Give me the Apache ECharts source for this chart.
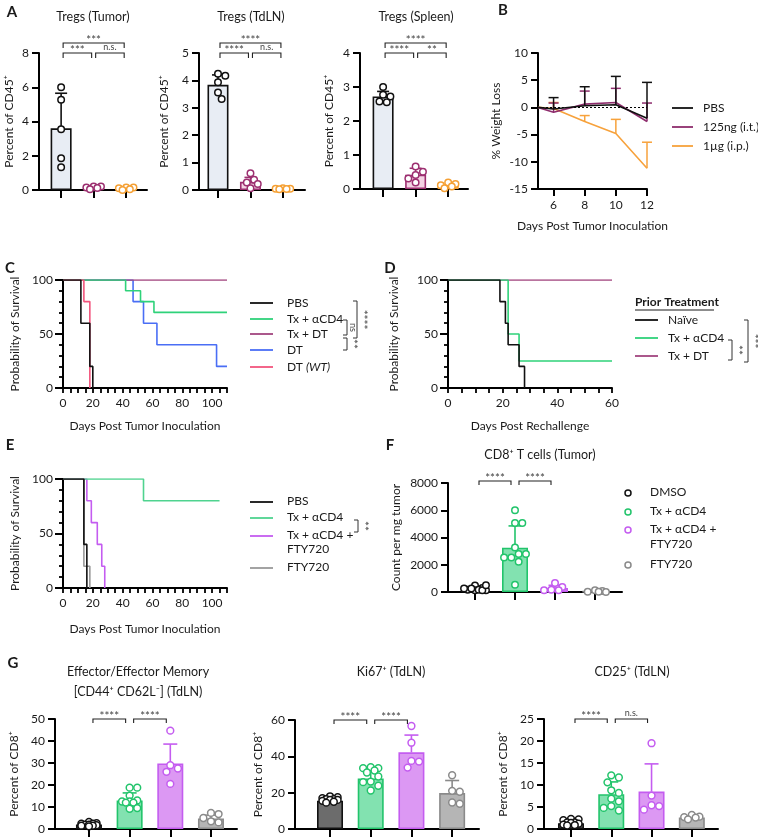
<!DOCTYPE html>
<html><head><meta charset="utf-8">
<script src="https://cdn.jsdelivr.net/npm/echarts@6/dist/echarts.min.js"></script>
<style>html,body{margin:0;padding:0;background:#fff}#c{width:758px;height:840px}</style>
</head><body><div id="c"></div><script>
// ================= DATA =================
// Panel A – Tregs, 3 groups each
const aTitles = ['Tregs (Tumor)', 'Tregs (TdLN)', 'Tregs (Spleen)'];
const aYName = 'Percent of CD45⁺';
const aTumorMean = [3.6, 0.15, 0.09];
const aTumorSdTop = [5.65, null, null];
const aTumorPts = [[6.0, 5.27, 3.55, 1.85, 1.33], [0.2, 0.2, 0.15, 0.12, 0.05], [0.15, 0.15, 0.1, 0.05, 0.0]];
const aTumorSig = ['***', '***', 'n.s.']; // [1-3, 1-2, 2-3]
const aTdlnMean = [3.84, 0.3, 0.05];
const aTdlnSdTop = [4.2, 0.46, null];
const aTdlnPts = [[4.24, 4.17, 3.93, 3.56, 3.32], [0.61, 0.37, 0.27, 0.22, 0.06], [0.06, 0.05, 0.05, 0.04, 0.03]];
const aTdlnSig = ['****', '****', 'n.s.'];
const aSpleenMean = [2.72, 0.42, 0.11];
const aSpleenSdTop = [2.87, 0.61, null];
const aSpleenPts = [[3.0, 2.77, 2.72, 2.57, 2.55], [0.66, 0.51, 0.41, 0.31, 0.19], [0.19, 0.15, 0.11, 0.07, 0.02]];
const aSpleenSig = ['****', '****', '**'];

// Panel B – weight loss
const bNames = ['PBS', '125ng (i.t.)', '1µg (i.p.)'];
const bDays = [5, 6, 8, 10, 12];
const bXTicks = [6, 8, 10, 12];
const bPBS = [0, -0.3, 0.3, 0.5, -2.0];
const bPBSErr = [null, 1.8, 3.8, 5.7, 4.6];
const b125 = [0, -0.9, 0.6, 0.9, -2.6];
const b125Err = [null, 0.8, 3.0, 3.5, 0.8];
const b1ug = [0, -0.2, -2.6, -4.8, -11.2];
const b1ugErr = [null, 0.9, -1.5, -2.2, -6.4];

// Panel C – survival
const cNames = ['PBS', 'Tx + αCD4', 'Tx + DT', 'DT', 'DT (WT)'];
const cPBS = [[0, 100], [12, 60], [18, 20], [20, 0]];
const cTxCD4 = [[0, 100], [42, 90], [52, 80], [61, 70], [110, 70]];
const cTxDT = [[0, 100], [110, 100]];
const cDT = [[0, 100], [47, 80], [54, 60], [63, 40], [103, 20], [110, 20]];
const cDTWT = [[0, 100], [14, 80], [18, 0]];
const survXLabels = [0, 20, 40, 60, 80, 100];

// Panel D – rechallenge survival
const dNames = ['Naïve', 'Tx + αCD4', 'Tx + DT'];
const dNaive = [[0, 100], [19, 80], [21, 60], [22, 40], [26, 20], [28, 0]];
const dTxCD4 = [[0, 100], [22, 50], [26, 25], [60, 25]];
const dTxDT = [[0, 100], [60, 100]];
const dXLabels = [0, 20, 40, 60];

// Panel E – survival with FTY720
const eNames = ['PBS', 'Tx + αCD4', 'Tx + αCD4 +\nFTY720', 'FTY720'];
const ePBS = [[0, 100], [14, 40], [16, 0]];
const eTxCD4 = [[0, 100], [54, 80], [105, 80]];
const eTxCD4FTY = [[0, 100], [16, 80], [19, 60], [23, 40], [26, 20], [28, 0]];
const eFTY = [[0, 100], [14, 20], [18, 0]];

// Panel F – CD8 counts
const fNames = ['DMSO', 'Tx + αCD4', 'Tx + αCD4 +\nFTY720', 'FTY720'];
const fMean = [220, 3250, 290, 50];
const fSdTop = [330, 4850, 490, null];
const fPts = [[470, 290, 170, 120, 250, 120, 170, 250, 120, 490],
              [6000, 5070, 5070, 3270, 2780, 2540, 2780, 2220, 2540, 540],
              [660, 370, 170, 120, 120],
              [120, 70, 25, 25, 0]];
const fSig = ['****', '****'];

// Panel G
const g1Mean = [2.0, 13.0, 29.8, 4.8];
const g1SdTop = [2.7, 16.4, 38.6, 6.3];
const g1Pts = [[3.2, 2.7, 2.4, 2.4, 2.0, 2.0, 1.7, 1.5, 1.5, 1.2],
               [18.8, 18.8, 15.2, 13.0, 12.5, 12.5, 12.0, 12.0, 9.5, 9.2],
               [44.7, 29.0, 27.5, 26.0, 20.5],
               [7.3, 6.8, 5.0, 3.5, 3.0]];
const g2Mean = [15.6, 27.8, 42.2, 19.8];
const g2SdTop = [16.7, 31.6, 51.7, 26.7];
const g2Pts = [[18.0, 17.5, 17.0, 16.5, 16.5, 16.0, 16.0, 15.5, 15.0, 14.5],
               [34.0, 33.5, 33.5, 32.2, 31.1, 28.9, 26.1, 25.8, 23.8, 21.2],
               [56.7, 47.5, 37.5, 37.1, 33.8],
               [29.6, 21.0, 20.5, 14.6, 13.9]];
const g3Mean = [1.3, 7.9, 8.5, 2.6];
const g3SdTop = [1.8, 10.7, 14.8, 3.0];
const g3Pts = [[2.3, 2.2, 2.0, 1.5, 1.5, 1.4, 1.2, 1.0, 0.9, 0.8],
               [12.2, 11.7, 10.6, 8.8, 8.2, 6.9, 6.3, 5.2, 4.8, 4.2],
               [19.5, 7.6, 5.4, 5.2, 4.4],
               [3.2, 2.8, 2.7, 2.6, 2.2]];
const g1Sig = ['****', '****'];
const g2Sig = ['****', '****'];
const g3Sig = ['****', 'n.s.'];

// ================= STYLE / BUILD =================
const FONT = 'Lato, "Noto Sans", sans-serif';
const TXT = '#1a1a1a';
const SIGC = '#444';
const C = {
  black: '#111111', aPurple: '#9c2f70', aOrange: '#f5a034',
  aFill1: '#e8edf4', aFill2: '#f3d3e3', aFill3: '#fde5c8',
  green: '#2fd27a', greenE: '#4fd38f', greenFill: '#82e2b0', greenStroke: '#22c46b',
  violet: '#c45cf0', violetFill: '#dc98f3',
  grey: '#999999', greyFill: '#b5b5b5', greyStroke: '#8a8a8a', dark: '#6c6c6c',
  purpleC: '#a2467f', blue: '#4a6ef5', pink: '#f2557d', bPurple: '#8e2d6d', bOrange: '#f7a23c'
};

const option = { animation: false, backgroundColor: '#fff', textStyle: { fontFamily: FONT },
  grid: [], xAxis: [], yAxis: [], series: [], graphic: [] };

function merge(a, b) {
  for (const k in b) {
    if (b[k] && typeof b[k] === 'object' && !Array.isArray(b[k]) && a[k] && typeof a[k] === 'object') merge(a[k], b[k]);
    else a[k] = b[k];
  }
  return a;
}
function axis(gi, o) {
  return merge({ gridIndex: gi, type: 'value', splitLine: { show: false },
    axisLine: { show: true, onZero: false, lineStyle: { color: '#000', width: 2 } },
    axisTick: { show: true, length: 7, lineStyle: { color: '#000', width: 2 } },
    axisLabel: { color: TXT, fontSize: 12, fontFamily: FONT, margin: 10, formatter: v => String(v) },
    nameTextStyle: { color: TXT, fontSize: 12, fontFamily: FONT } }, o);
}
function sigFont(t) { return (/\*/.test(t) ? '11.5px ' : '9px ') + FONT; }
function txt(x, y, text, o = {}) {
  const st = { text, fill: o.color || TXT,
    font: o.font || ((o.italic ? 'italic ' : '') + (o.bold ? 'bold ' : '') + (o.size || 12) + 'px ' + FONT),
    align: o.align || 'center', verticalAlign: o.va || 'middle' };
  if (o.lh) st.lineHeight = o.lh;
  if (o.rich) st.rich = o.rich;
  option.graphic.push({ type: 'text', x, y, rotation: o.rot || 0, z: 10, silent: true, style: st });
}
function gline(x1, y1, x2, y2, col, w) {
  option.graphic.push({ type: 'line', z: 10, silent: true, shape: { x1, y1, x2, y2 }, style: { stroke: col, lineWidth: w || 1.5 } });
}
function vbracket(x, y1, y2, label) {
  option.graphic.push({ type: 'polyline', z: 10, silent: true,
    shape: { points: [[x - 4, y1], [x, y1], [x, y2], [x - 4, y2]] }, style: { stroke: '#333', lineWidth: 1, fill: null } });
  txt(x + 6, (y1 + y2) / 2, label, { font: sigFont(label), color: SIGC, rot: -Math.PI / 2 });
}

// constrained beeswarm: horizontal placement only, kept within +-W px
function swarm(values, center, pxX, pxY, d, W) {
  const placed = [], out = [];
  const step = d * 0.5;
  const cands = [0];
  for (let k = 1; k * step <= W + 0.01; k++) { cands.push(k * step, -k * step); }
  values.forEach(v => {
    const ypx = v * pxY;
    let best = 0, bestD = -1;
    for (const off of cands) {
      const md = placed.length ? Math.min(...placed.map(p => Math.hypot(p[0] - off, p[1] - ypx))) : Infinity;
      if (md >= d * 0.95) { best = off; bestD = md; break; }
      if (md > bestD) { bestD = md; best = off; }
    }
    placed.push([best, ypx]);
    out.push([center + best / pxX, v]);
  });
  return out;
}

function barPanel(c) {
  const gi = option.grid.length;
  option.grid.push({ left: c.left, top: c.top, width: c.w, height: c.h, outerBoundsMode: 'none' });
  const cats = c.mean.map((_, i) => i + 1);
  const xi = option.xAxis.length, yi = option.yAxis.length;
  option.xAxis.push(axis(gi, { min: c.xMin, max: c.xMax, axisTick: { customValues: cats, length: 8 }, axisLabel: { show: false } }));
  option.yAxis.push(axis(gi, { min: 0, max: c.yMax, interval: c.yInt, name: c.yName, nameLocation: 'middle', nameGap: c.nameGap, nameRotate: 90 }));
  const pxX = c.w / (c.xMax - c.xMin), pxY = c.h / c.yMax;
  option.series.push({ type: 'bar', xAxisIndex: xi, yAxisIndex: yi, barWidth: c.barW, silent: true, z: 2,
    data: c.mean.map((m, i) => ({ value: [i + 1, m], itemStyle: { color: c.fill[i], borderColor: c.stroke[i], borderWidth: 1.6 } })) });
  option.series.push({ type: 'custom', xAxisIndex: xi, yAxisIndex: yi, z: 3, silent: true, clip: false,
    data: c.mean.map((m, i) => [i + 1, m, c.sdTop[i] == null ? m : c.sdTop[i]]),
    renderItem: (p, api) => {
      const i = p.dataIndex;
      if (c.sdTop[i] == null) return null;
      const p0 = api.coord([api.value(0), api.value(1)]), p1 = api.coord([api.value(0), api.value(2)]);
      const hw = c.cap / 2, col = c.stroke[i];
      return { type: 'group', children: [
        { type: 'line', shape: { x1: p0[0], y1: p0[1], x2: p1[0], y2: p1[1] }, style: { stroke: col, lineWidth: 1.6 } },
        { type: 'line', shape: { x1: p1[0] - hw, y1: p1[1], x2: p1[0] + hw, y2: p1[1] }, style: { stroke: col, lineWidth: 1.6 } }] };
    } });
  c.pts.forEach((arr, i) => {
    option.series.push({ type: 'scatter', xAxisIndex: xi, yAxisIndex: yi, silent: true, z: 4, symbol: 'circle', symbolSize: c.ms,
      itemStyle: { color: '#fff', borderColor: c.ptCol[i], borderWidth: 1.5, opacity: 1 },
      data: swarm(arr, i + 1, pxX, pxY, c.ms + 0.8, c.W) });
  });
  // significance brackets
  option.series.push({ type: 'custom', xAxisIndex: xi, yAxisIndex: yi, z: 5, silent: true, clip: false,
    data: c.sig.map(s => [s[0], s[1], s[2]]),
    renderItem: (p, api) => {
      const s = c.sig[p.dataIndex];
      const top = api.coord([s[0], c.yMax])[1];
      const y = top - c.bBase - s[2] * 10;
      const xa = api.coord([s[0], 0])[0] + c.inset, xb = api.coord([s[1], 0])[0] - c.inset;
      const isStar = /\*/.test(s[3]);
      return { type: 'group', children: [
        { type: 'polyline', shape: { points: [[xa, y + c.drop], [xa, y], [xb, y], [xb, y + c.drop]] }, style: { stroke: '#222', lineWidth: 1.1, fill: null } },
        { type: 'text', x: (xa + xb) / 2, y: isStar ? y + 3 : y - 1, style: { text: s[3], fill: SIGC, font: sigFont(s[3]), align: 'center', verticalAlign: 'bottom' } }] };
    } });
}

function survPanel(c) {
  const gi = option.grid.length;
  option.grid.push({ left: c.left, top: c.top, width: c.w, height: c.h, outerBoundsMode: 'none' });
  const ticks = []; for (let t = 0; t <= c.xMax; t += 5) ticks.push(t);
  const xi = option.xAxis.length, yi = option.yAxis.length;
  option.xAxis.push(axis(gi, { min: 0, max: c.xMax, name: c.xName, nameLocation: 'middle', nameGap: c.xGap,
    axisTick: { customValues: ticks, length: 5, lineStyle: { width: 1.8 } }, axisLabel: { customValues: c.xLabels, margin: 9 } }));
  option.yAxis.push(axis(gi, { min: 0, max: 100, interval: 50, name: 'Probability of Survival', nameLocation: 'middle', nameGap: c.yGap,
    axisTick: { length: 8 }, minorTick: { show: true, splitNumber: 5, length: 4, lineStyle: { color: '#000', width: 1.8 } } }));
  c.curves.forEach((d, i) => option.series.push({ type: 'line', xAxisIndex: xi, yAxisIndex: yi, step: 'end', showSymbol: false,
    symbol: 'none', silent: true, data: d, z: 3 + i, lineStyle: { color: c.colors[i], width: 1.6 }, itemStyle: { color: c.colors[i] } }));
}

// ---- Panel A ----
const aFill = [C.aFill1, C.aFill2, C.aFill3], aStroke = [C.black, C.aPurple, C.aOrange];
function aSigList(s) { return [[1, 3, 1, s[0]], [1, 2, 0, s[1]], [2, 3, 0, s[2]]]; }
const aBase = { top: 53, h: 137, yName: aYName, barW: 21, fill: aFill, stroke: aStroke, ptCol: aStroke, ms: 6.5, W: 8, cap: 12, bBase: 0, inset: 2, drop: 5 };
barPanel(Object.assign({}, aBase, { left: 39, w: 108, xMin: 0.32, xMax: 3.64, yMax: 8, yInt: 2, nameGap: 24, mean: aTumorMean, sdTop: aTumorSdTop, pts: aTumorPts, sig: aSigList(aTumorSig) }));
barPanel(Object.assign({}, aBase, { left: 199, w: 106, xMin: 0.415, xMax: 3.68, yMax: 5, yInt: 1, nameGap: 29, mean: aTdlnMean, sdTop: aTdlnSdTop, pts: aTdlnPts, sig: aSigList(aTdlnSig) }));
barPanel(Object.assign({}, aBase, { left: 360, h: 136, w: 108, xMin: 0.29, xMax: 3.61, yMax: 4, yInt: 1, nameGap: 25, mean: aSpleenMean, sdTop: aSpleenSdTop, pts: aSpleenPts, sig: aSigList(aSpleenSig) }));
txt(93, 17, aTitles[0], { size: 12.5 });
txt(251, 17, aTitles[1], { size: 12.5 });
txt(416, 17, aTitles[2], { size: 12.5 });

// ---- Panel B ----
(function () {
  const gi = option.grid.length;
  option.grid.push({ left: 538, top: 53, width: 109, height: 136, outerBoundsMode: 'none' });
  const xi = option.xAxis.length, yi = option.yAxis.length;
  option.xAxis.push(axis(gi, { min: 5, max: 12, name: 'Days Post Tumor Inoculation', nameLocation: 'middle', nameGap: 31,
    axisTick: { customValues: bXTicks, length: 7 }, axisLabel: { customValues: bXTicks, margin: 10 } }));
  option.yAxis.push(axis(gi, { min: -15, max: 10, interval: 5, name: '% Weight Loss', nameLocation: 'middle', nameGap: 36 }));
  const lines = [[b1ug, b1ugErr, C.bOrange], [b125, b125Err, C.bPurple], [bPBS, bPBSErr, C.black]];
  lines.forEach((L, k) => {
    const s = { type: 'line', xAxisIndex: xi, yAxisIndex: yi, showSymbol: false, symbol: 'none', silent: true, z: 3 + k,
      data: bDays.map((d, i) => [d, L[0][i]]), lineStyle: { color: L[2], width: 1.6 } };
    if (k === 2) s.markLine = { silent: true, symbol: 'none', label: { show: false }, lineStyle: { type: [2, 2], color: '#000', width: 1.2 }, data: [{ yAxis: 0 }] };
    option.series.push(s);
    option.series.push({ type: 'custom', xAxisIndex: xi, yAxisIndex: yi, silent: true, z: 3 + k, clip: false,
      data: bDays.map((d, i) => [d, L[0][i], L[1][i] == null ? L[0][i] : L[1][i]]),
      renderItem: (p, api) => {
        if (L[1][p.dataIndex] == null) return null;
        const p0 = api.coord([api.value(0), api.value(1)]), p1 = api.coord([api.value(0), api.value(2)]);
        return { type: 'group', children: [
          { type: 'line', shape: { x1: p0[0], y1: p0[1], x2: p1[0], y2: p1[1] }, style: { stroke: L[2], lineWidth: 1.5 } },
          { type: 'line', shape: { x1: p1[0] - 5, y1: p1[1], x2: p1[0] + 5, y2: p1[1] }, style: { stroke: L[2], lineWidth: 1.5 } }] };
      } });
  });
  const cols = [C.black, C.bPurple, C.bOrange], ys = [108, 127, 146];
  bNames.forEach((n, i) => { gline(672, ys[i], 693, ys[i], cols[i], 1.8); txt(703, ys[i], n, { align: 'left' }); });
})();

// ---- Panel C ----
survPanel({ left: 63, top: 280, w: 164, h: 108, xMax: 110, xLabels: survXLabels, xName: 'Days Post Tumor Inoculation', xGap: 32, yGap: 42,
  curves: [cDT, cTxDT, cTxCD4, cDTWT, cPBS], colors: [C.blue, C.purpleC, C.green, C.pink, C.black] });
(function () {
  const cols = [C.black, C.green, C.purpleC, C.blue, C.pink], ys = [303, 319, 334, 350, 367];
  cNames.forEach((n, i) => {
    gline(250, ys[i], 273, ys[i], cols[i], 1.8);
    if (n === 'DT (WT)') txt(287, ys[i], 'DT {i|(WT)}', { align: 'left', rich: { i: { fontStyle: 'italic', fontSize: 12, fontFamily: FONT, fill: TXT } } });
    else txt(287, ys[i], n, { align: 'left' });
  });
  vbracket(357, 301, 338, '****');
  vbracket(347, 320, 335, 'ns');
  vbracket(347, 338, 350, '**');
})();

// ---- Panel D ----
survPanel({ left: 448, top: 280, w: 164, h: 108, xMax: 60, xLabels: dXLabels, xName: 'Days Post Rechallenge', xGap: 32, yGap: 48,
  curves: [dTxDT, dTxCD4, dNaive], colors: [C.purpleC, C.green, C.black] });
(function () {
  txt(635, 302, 'Prior Treatment', { align: 'left', bold: true, size: 12 });
  gline(635, 310, 714, 310, TXT, 1);
  const cols = [C.black, C.green, C.purpleC], ys = [320, 338, 356];
  dNames.forEach((n, i) => { gline(635, ys[i], 658, ys[i], cols[i], 1.8); txt(668, ys[i], n, { align: 'left' }); });
  vbracket(732, 340, 360, '**');
  vbracket(748, 320, 362, '***');
})();

// ---- Panel E ----
survPanel({ left: 63, top: 479, w: 164, h: 109, xMax: 110, xLabels: survXLabels, xName: 'Days Post Tumor Inoculation', xGap: 35, yGap: 42,
  curves: [eTxCD4FTY, eTxCD4, eFTY, ePBS], colors: [C.violet, C.greenE, C.grey, C.black] });
(function () {
  const cols = [C.black, C.greenE, C.violet, C.grey], ys = [502, 518, 536, 568];
  eNames.forEach((n, i) => {
    gline(250, ys[i], 273, ys[i], cols[i], 1.8);
    txt(287, ys[i] - 8, n, { align: 'left', va: 'top', lh: 14 });
  });
  vbracket(358, 520, 532, '**');
})();

// ---- Panel F ----
const fFill = [C.dark, C.greenFill, C.violetFill, C.greyFill], fStroke = [C.black, C.greenStroke, C.violet, C.greyStroke];
barPanel({ left: 448, top: 483, w: 174, h: 109, xMin: 0.325, xMax: 4.675, yMax: 8000, yInt: 2000, yName: 'Count per mg tumor', nameGap: 46,
  barW: 26, fill: fFill, stroke: fStroke, ptCol: fStroke, ms: 6.5, W: 11, cap: 13, bBase: 2, inset: 4, drop: 4,
  mean: fMean, sdTop: fSdTop, pts: fPts, sig: [[1, 2, 0, fSig[0]], [2, 3, 0, fSig[1]]] });
txt(540, 455, 'CD8⁺ T cells (Tumor)', { size: 12.5 });
(function () {
  const ys = [493, 512, 530, 565];
  fNames.forEach((n, i) => {
    option.graphic.push({ type: 'circle', z: 10, silent: true, shape: { cx: 628, cy: ys[i], r: 3 }, style: { fill: '#fff', stroke: fStroke[i], lineWidth: 1.5 } });
    txt(650, ys[i] - 8, n, { align: 'left', va: 'top', lh: 15 });
  });
})();

// ---- Panel G ----
const gFill = [C.dark, C.greenFill, C.violetFill, C.greyFill], gStroke = [C.black, C.greenStroke, C.violet, C.greyStroke];
const gBase = { barW: 26, fill: gFill, stroke: gStroke, ptCol: gStroke, ms: 6.8, W: 11, cap: 14, bBase: 0, inset: 4, drop: 4, yName: 'Percent of CD8⁺' };
barPanel(Object.assign({}, gBase, { left: 55, top: 719, w: 182, h: 110, xMin: 0.165, xMax: 4.64, yMax: 50, yInt: 10, nameGap: 35,
  mean: g1Mean, sdTop: g1SdTop, pts: g1Pts, sig: [[1, 2, 0, g1Sig[0]], [2, 3, 0, g1Sig[1]]] }));
barPanel(Object.assign({}, gBase, { left: 295, top: 720, w: 184, h: 109, xMin: 0.14, xMax: 4.66, yMax: 60, yInt: 20, nameGap: 31,
  mean: g2Mean, sdTop: g2SdTop, pts: g2Pts, sig: [[1, 2, 0, g2Sig[0]], [2, 3, 0, g2Sig[1]]] }));
barPanel(Object.assign({}, gBase, { left: 544, top: 719, w: 174, h: 110, xMin: 0.33, xMax: 4.65, yMax: 25, yInt: 5, nameGap: 35,
  mean: g3Mean, sdTop: g3SdTop, pts: g3Pts, sig: [[1, 2, 0, g3Sig[0]], [2, 3, 0, g3Sig[1]]] }));
txt(138, 672, 'Effector/Effector Memory', { size: 12.5 });
txt(138, 692, '[CD44⁺ CD62L⁻] (TdLN)', { size: 12.5 });
txt(391, 672, 'Ki67⁺ (TdLN)', { size: 12.5 });
txt(632, 672, 'CD25⁺ (TdLN)', { size: 12.5 });

// ---- Panel letters ----
[['A', 12, 12], ['B', 503, 10], ['C', 10, 268], ['D', 390, 268], ['E', 10, 445], ['F', 390, 445], ['G', 13, 663]]
  .forEach(l => txt(l[1], l[2], l[0], { bold: true, size: 15 }));

const chart = echarts.init(document.getElementById('c'), null, { renderer: 'canvas' });
chart.setOption(option);
</script></body></html>
